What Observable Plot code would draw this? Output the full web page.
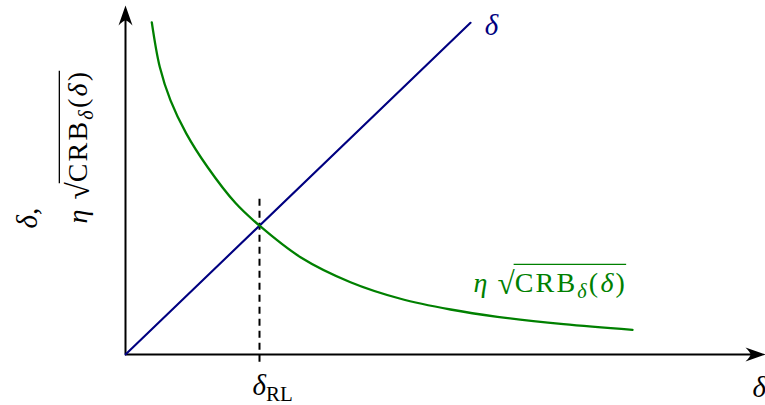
<!DOCTYPE html>
<html>
<head>
<meta charset="utf-8">
<script src="https://cdn.jsdelivr.net/npm/d3@7"></script>
<script src="https://cdn.jsdelivr.net/npm/@observablehq/plot@0.6"></script>
<style>
  html, body { margin: 0; padding: 0; background: #fff; }
  #chart svg { display: block; }
</style>
</head>
<body>
<div id="chart"></div>
<script>
// Separation δ on the x axis, compared with δ itself (blue diagonal)
// and with the scaled bound η·√CRB_δ(δ) (green curve).
const deltaLine = [0, 3.45];
const crbDelta = [0.263, 0.343, 0.45, 0.607, 0.82, 1.10, 1.34, 1.75, 2.25, 2.75, 3.25, 3.72, 4.38, 5.07];
const crbValue = [3.455, 2.99, 2.643, 2.30, 1.95, 1.575, 1.34, 1.012, 0.752, 0.58, 0.468, 0.392, 0.316, 0.257];
const deltaRL = 1.34;
const xMax = 6.4;
const yMax = 3.63;

const NAVY = "#000080";
const GREEN = "#008000";
const SERIF = "'Liberation Serif', 'Times New Roman', 'DejaVu Serif', serif";

// Label strings and their rich-text pieces: [text, flags]
// flags: i = italic, s = subscript, o = under the radical bar, r = radical sign, w = wide space
const crbLabel = "η √CRBδ(δ)";
const crbParts = [["η", "i"], [" ", "w"], ["√", "r"], ["CRB", "o"], ["δ", "iso"], ["(", "o"], ["δ", "io"], [")", "o"]];
const rlLabel = "δRL";
const rlParts = [["δ", "i"], ["RL", "s"]];
const yLabel1 = "δ,";
const yLabel1Parts = [["δ", "i"], [",", ""]];

const curveData = crbDelta.map((d, i) => ({d, v: crbValue[i]}));
const lineData = deltaLine.map(d => ({d, v: d}));

// Filled arrow tip pointing up, tip at the origin of the symbol
const arrowHead = {
  draw(ctx) {
    ctx.moveTo(0, 0);
    ctx.lineTo(7, 20);
    ctx.quadraticCurveTo(2, 15, 0, 15);
    ctx.quadraticCurveTo(-2, 15, -7, 20);
    ctx.closePath();
  }
};

const chart = Plot.plot({
  width: 765,
  height: 405,
  marginLeft: 125,
  marginRight: 0,
  marginTop: 5,
  marginBottom: 51,
  style: {background: "#fff", fontFamily: SERIF},
  x: {domain: [0, xMax], axis: null},
  y: {domain: [0, yMax], axis: null},
  marks: [
    // axes
    Plot.ruleY([0], {x1: 0, x2: xMax - 0.12, stroke: "black", strokeWidth: 2}),
    Plot.ruleX([0], {y1: 0, y2: yMax - 0.12, stroke: "black", strokeWidth: 2}),
    Plot.dot([{x: xMax, y: 0}], {x: "x", y: "y", symbol: arrowHead, fill: "black", stroke: "none", rotate: 90}),
    Plot.dot([{x: 0, y: yMax}], {x: "x", y: "y", symbol: arrowHead, fill: "black", stroke: "none", rotate: 0}),
    // resolution limit
    Plot.ruleX([deltaRL], {y1: -0.08, y2: 1.655, stroke: "black", strokeWidth: 2, strokeDasharray: "7,5"}),
    // curves
    Plot.line(lineData, {x: "d", y: "v", stroke: NAVY, strokeWidth: 2.1}),
    Plot.line(curveData, {x: "d", y: "v", stroke: GREEN, strokeWidth: 2.3, curve: "catmull-rom"}),
    // labels
    Plot.text([crbLabel], {x: 3.48, y: 0.655, text: d => d, fill: GREEN, fontSize: 28, textAnchor: "start", lineAnchor: "bottom"}),
    Plot.text(["δ"], {x: 3.66, y: 3.318, text: d => d, fill: NAVY, fontSize: 29, fontStyle: "italic", textAnchor: "middle", lineAnchor: "bottom"}),
    Plot.text([rlLabel], {x: 1.27, y: -0.426, text: d => d, fill: "black", fontSize: 29, textAnchor: "start", lineAnchor: "bottom"}),
    Plot.text(["δ"], {x: 6.27, y: -0.447, text: d => d, fill: "black", fontSize: 29, fontStyle: "italic", textAnchor: "start", lineAnchor: "bottom"}),
    Plot.text([yLabel1], {x: -0.89, y: 1.31, text: d => d, fill: "black", fontSize: 29, rotate: -90, textAnchor: "start", lineAnchor: "bottom"}),
    Plot.text([crbLabel], {x: -0.39, y: 1.363, text: d => d, fill: "black", fontSize: 28, rotate: -90, textAnchor: "start", lineAnchor: "bottom"})
  ]
});

document.getElementById("chart").append(chart);

// Rebuild label text into italic / subscript pieces and add the radical bar
const svgNS = "http://www.w3.org/2000/svg";
const richLabels = new Map([[crbLabel, crbParts], [rlLabel, rlParts], [yLabel1, yLabel1Parts]]);

function richText(el, parts) {
  const size = parseFloat(getComputedStyle(el).fontSize) || 28;
  el.textContent = "";
  let shift = 0;
  const under = [];
  let base = null;
  for (const [str, flags] of parts) {
    const t = document.createElementNS(svgNS, "tspan");
    t.textContent = str;
    t.setAttribute("font-style", flags.includes("i") ? "italic" : "normal");
    const sub = flags.includes("s");
    const target = sub ? Math.round(size * 0.22) : flags.includes("r") ? Math.round(size * 0.08) : 0;
    if (target !== shift) { t.setAttribute("dy", target - shift); shift = target; }
    if (sub) t.setAttribute("font-size", (size * 0.72).toFixed(1));
    if (flags.includes("r")) t.setAttribute("font-size", (size * 1.12).toFixed(1));
    if (flags.includes("w")) t.setAttribute("letter-spacing", 3);
    if (flags.includes("o")) t.setAttribute("letter-spacing", 2.2);
    el.appendChild(t);
    if (flags.includes("o")) under.push(t);
    if (base === null && !sub) base = t;
  }
  if (under.length) {
    const y0 = base.getStartPositionOfChar(0).y;
    const a = under[0].getStartPositionOfChar(0);
    const last = under[under.length - 1];
    const b = last.getEndPositionOfChar(last.getNumberOfChars() - 1);
    const bar = document.createElementNS(svgNS, "line");
    bar.setAttribute("x1", a.x - 1);
    bar.setAttribute("x2", b.x - 1);
    bar.setAttribute("y1", y0 - size * 0.97);
    bar.setAttribute("y2", y0 - size * 0.97);
    bar.setAttribute("stroke", getComputedStyle(el).fill);
    bar.setAttribute("stroke-width", 1.3);
    const tr = el.getAttribute("transform");
    if (tr) bar.setAttribute("transform", tr);
    el.parentNode.appendChild(bar);
  }
}

chart.querySelectorAll("text").forEach(el => {
  const parts = richLabels.get(el.textContent);
  if (parts) richText(el, parts);
});
</script>
</body>
</html>
